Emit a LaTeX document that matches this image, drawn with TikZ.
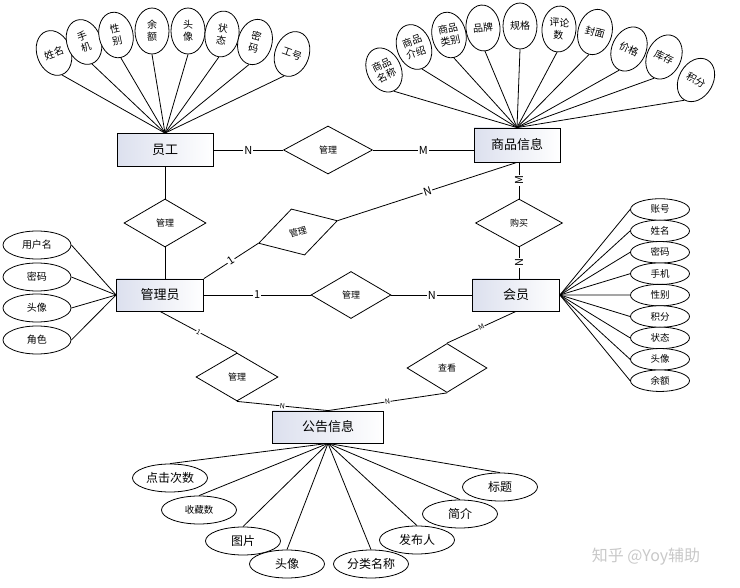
\documentclass[tikz,border=0pt]{standalone}
\usepackage{fontspec}
\setmainfont{Noto Sans CJK SC}
\usetikzlibrary{shapes.geometric}
\definecolor{boxleft}{RGB}{220,224,238}
\definecolor{markgray}{RGB}{200,200,200}
\tikzset{
  entity/.style={rectangle,draw,left color=boxleft,right color=white,minimum height=33pt,inner sep=0pt,font=\fontsize{13}{15}\selectfont},
  rel/.style={diamond,draw,fill=white,minimum width=82pt,minimum height=48pt,inner sep=0pt,font=\fontsize{9}{10}\selectfont},
  fan/.style={ellipse,draw,fill=white,minimum width=34pt,minimum height=46pt,inner sep=0pt,align=center,font=\fontsize{10}{12}\selectfont},
  attr/.style={ellipse,draw,fill=white,minimum width=68pt,minimum height=28pt,inner sep=0pt,font=\fontsize{10}{12}\selectfont},
  card/.style={fill=white,inner sep=1pt,font=\fontsize{11}{12}\selectfont},
  smallcard/.style={fill=white,inner sep=0.5pt,font=\fontsize{7}{8}\selectfont},
}
\begin{document}
\begin{tikzpicture}[x=1pt,y=-1pt,line width=0.8pt]
            \useasboundingbox (0,0) rectangle (740,588);
            % entities
            \path (165,150) node[entity,minimum width=96pt] (yg) {员工};
            \path (517,145) node[entity,minimum width=86pt,minimum height=34pt] (sp) {商品信息};
            \path (160,295) node[entity,minimum width=87pt,minimum height=32pt] (gly) {管理员};
            \path (516,295) node[entity,minimum width=87pt,minimum height=32pt] (hy) {会员};
            \path (328,427) node[entity,minimum width=111pt,minimum height=32pt] (gg) {公告信息};

            % relationships
            \path (328,150) node[rel,minimum width=89pt] (r1) {管理};
            \path (165,223) node[rel] (r2) {管理};
            \path (298,232) node[rel,rotate=16] (r3) {管理};
            \path (351,295) node[rel,minimum width=80pt,minimum height=47pt] (r4) {管理};
            \path (519,223) node[rel,minimum width=87pt] (r5) {购买};
            \path (237,377) node[rel] (r6) {管理};
            \path (447,368) node[rel,minimum width=80pt,minimum height=49pt] (r7) {查看};

            % 员工 attributes
            \path (54,53) node[fan,rotate=20] (e1) {姓名};
            \path (84,42) node[fan,rotate=20] (e2) {手\\机};
            \path (116,35) node[fan,rotate=12] (e3) {性\\别};
            \path (152,31) node[fan] (e4) {余\\额};
            \path (188,31) node[fan] (e5) {头\\像};
            \path (222,34) node[fan,rotate=-8] (e6) {状\\态};
            \path (255,42) node[fan,rotate=-15] (e7) {密\\码};
            \path (292,54) node[fan,rotate=-20] (e8) {工号};

            % 商品信息 attributes
            \path (384,70) node[fan,rotate=25] (s1) {商品\\名称};
            \path (414,47) node[fan,rotate=20] (s2) {商品\\介绍};
            \path (449,35) node[fan,rotate=12] (s3) {商品\\类别};
            \path (483,28) node[fan,rotate=5] (s4) {品牌};
            \path (520,26) node[fan] (s5) {规格};
            \path (559,29) node[fan,rotate=-5] (s6) {评论\\数};
            \path (595,32) node[fan,rotate=-15] (s7) {封面};
            \path (629,49) node[fan,rotate=-25] (s8) {价格};
            \path (664,57) node[fan,rotate=-25] (s9) {库存};
            \path (696,80) node[fan,rotate=-30] (s10) {积分};

            % 会员 attributes
            \begin{scope}[every node/.append style={attr,minimum width=59pt,minimum height=21.5pt,font=\fontsize{9.5}{11}\selectfont}]
              \path (660,209.5) node (h1) {账号};
              \path (660,230.9) node (h2) {姓名};
              \path (660,252.3) node (h3) {密码};
              \path (660,273.7) node (h4) {手机};
              \path (660,295.1) node (h5) {性别};
              \path (660,316.5) node (h6) {积分};
              \path (660,337.9) node (h7) {状态};
              \path (660,359.3) node (h8) {头像};
              \path (660,380.7) node (h9) {余额};
            \end{scope}

            % 管理员 attributes
            \path (37,245) node[attr] (g1) {用户名};
            \path (37,277) node[attr] (g2) {密码};
            \path (37,308) node[attr] (g3) {头像};
            \path (37,340) node[attr] (g4) {角色};

            % 公告信息 attributes
            \begin{scope}[every node/.append style={attr,minimum width=75pt,font=\fontsize{12}{14}\selectfont}]
              \path (170,478) node (n1) {点击次数};
              \path (199,510) node[font=\fontsize{9.5}{11}\selectfont] (n2) {收藏数};
              \path (243,541) node (n3) {图片};
              \path (287,564) node (n4) {头像};
              \path (371,564) node (n5) {分类名称};
              \path (417,540) node (n6) {发布人};
              \path (460,514) node (n7) {简介};
              \path (500,487) node (n8) {标题};
            \end{scope}

            \foreach \a in {e1,e2,e3,e4,e5,e6,e7,e8}
              \draw (yg.north) -- (\a.south);
            \foreach \a in {s1,s2,s3,s4,s5,s6,s7,s8,s9,s10}
              \draw (sp.north) -- (\a.south);
            \foreach \a in {h1,h2,h3,h4,h5,h6,h7,h8,h9}
              \draw (hy.east) -- (\a.west);
            \foreach \a in {g1,g2,g3,g4}
              \draw (gly.west) -- (\a.east);
            \foreach \a in {n1,n2,n3,n4,n5,n6,n7,n8}
              \draw (gg.south) -- (\a.north);

            \begin{scope}[every node/.append style={midway}]
              \draw (yg) -- node[card]{N} (r1);
              \draw (r1.east) -- node[card]{M} (r1.east -| sp.west);
              \draw (yg) -- (r2);
              \draw (r2.south) -- (r2.south |- gly.north);
              \draw (gly.north east) -- node[card,sloped]{1} (r3.west);
              \draw (r3.east) -- node[card,sloped]{N} (sp.south);
              \draw (r5.north) -- node[card,rotate=90]{M} (r5.north |- sp.south);
              \draw (r5.south) -- node[card,rotate=90]{N} (r5.south |- hy.north);
              \draw (gly) -- node[card]{1} (r4);
              \draw (r4) -- node[card]{N} (hy);
              \draw (gly.south) -- node[smallcard,sloped]{1} (r6.north);
              \draw (r6.south) -- node[smallcard,sloped]{N} (gg.north);
              \draw (hy.south) -- node[smallcard,sloped]{M} (r7.north);
              \draw (r7.south) -- node[smallcard,sloped]{N} (gg.north);
            \end{scope}

            \path (646,557) node[text=markgray,font=\fontsize{16}{18}\selectfont] (mark) {知乎 @Yoy辅助};
          \end{tikzpicture}
\end{document}
